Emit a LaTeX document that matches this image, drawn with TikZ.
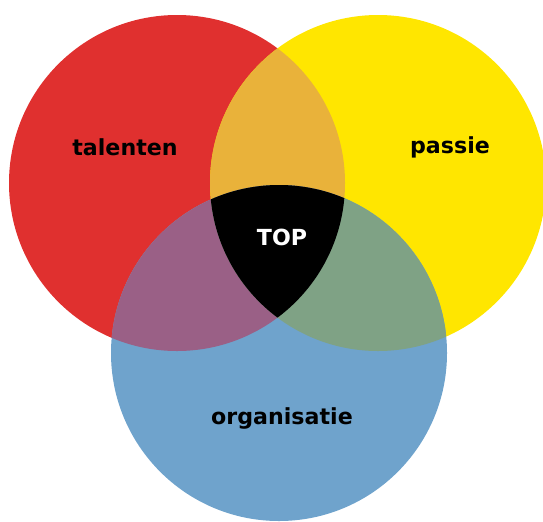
\documentclass[tikz,border=0pt]{standalone}
\usepackage{fontspec}
\setmainfont{DejaVu Sans}
\usetikzlibrary{positioning}

\definecolor{talred}{HTML}{E0302F}
\definecolor{pasyellow}{HTML}{FFE600}
\definecolor{orgblue}{HTML}{6FA3CC}
\definecolor{redyellow}{HTML}{E9B23A}
\definecolor{redblue}{HTML}{9A6086}
\definecolor{yellowblue}{HTML}{7FA285}

\begin{document}
\begin{tikzpicture}[x=0.02cm, y=-0.02cm, font=\bfseries]
    \tikzstyle{label} = [text=black, font=\bfseries\fontsize{12.6}{15}\selectfont]
    \def\rad{168}

    \useasboundingbox (0,0) rectangle (543,521);

    % circle centres
    \coordinate (tal) at (177,183);
    \coordinate (pas) at (378,183);
    \coordinate (org) at (279,353);

    % the three sets
    \fill[talred] (tal) circle (\rad);
    \fill[pasyellow] (pas) circle (\rad);
    \fill[orgblue] (org) circle (\rad);

    % pairwise overlaps
    \begin{scope}
        \clip (tal) circle (\rad);
        \fill[redyellow] (pas) circle (\rad);
        \fill[redblue] (org) circle (\rad);
    \end{scope}
    \begin{scope}
        \clip (pas) circle (\rad);
        \fill[yellowblue] (org) circle (\rad);
    \end{scope}

    % all three
    \begin{scope}
        \clip (tal) circle (\rad);
        \clip (pas) circle (\rad);
        \fill[black] (org) circle (\rad);
    \end{scope}

    \node (talenten) [label] at (125,147) {talenten};
    \node (passie) [label] at (450,147) {passie};
    \node (organisatie) [label] at (282,418) {organisatie};
    \node (top) [label, text=white] at (282,237) {TOP};
\end{tikzpicture}
\end{document}
